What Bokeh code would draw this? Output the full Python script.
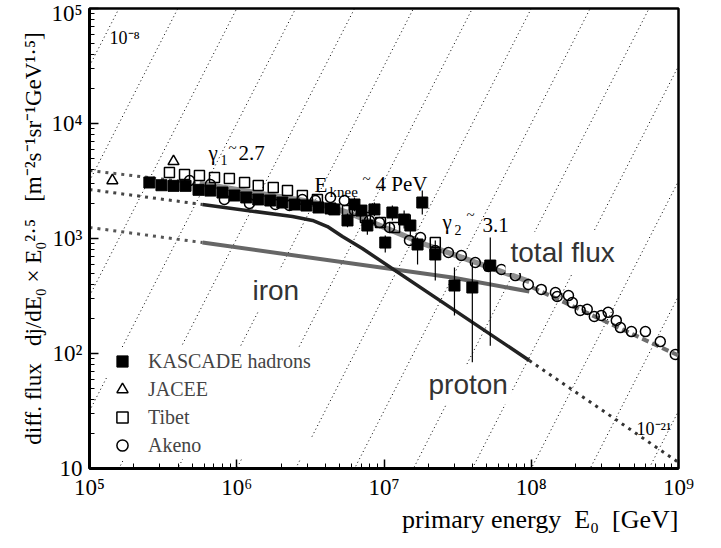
import math
from bokeh.plotting import figure
from bokeh.models import Range1d, FixedTicker, Label, Legend, LegendItem, Title
from bokeh.embed import file_html
from bokeh.resources import INLINE

SERIF = "Liberation Serif"
SANS = "Liberation Sans"
NB = "\u00a0"

# ---------------- data ----------------
# KASCADE hadrons (filled squares)
kascade_E = [2.55e5, 3.08e5, 3.72e5, 4.49e5, 5.50e5, 6.62e5, 8.00e5, 9.64e5, 1.16e6, 1.40e6,
             1.69e6, 2.04e6, 2.47e6, 2.97e6, 3.59e6, 4.33e6,
             4.60e6, 5.65e6, 6.30e6, 7.03e6, 7.71e6, 8.61e6, 1.02e7, 1.14e7, 1.37e7, 1.51e7,
             1.82e7, 1.69e7, 2.23e7, 3.01e7, 3.98e7, 5.27e7]
kascade_flux = [3070, 2905, 2870, 2870, 2650, 2610, 2510, 2365, 2275, 2185,
                2140, 2055, 1975, 1935, 1860, 1825,
                1790, 1435, 1975, 1750, 1297, 1790, 922, 1683, 1462, 1297,
                2055, 887, 726, 390, 375, 582]
# error bars of the scattered KASCADE points
kascade_err_E = [4.60e6, 5.65e6, 6.30e6, 7.03e6, 7.71e6, 8.61e6, 1.02e7, 1.14e7, 1.37e7, 1.51e7,
                 1.82e7, 1.69e7, 2.23e7, 3.01e7, 3.98e7, 5.27e7]
kascade_err_lo = [1600, 1250, 1720, 1560, 1080, 1560, 755, 1435, 1220, 1040,
                  1620, 594, 431, 214, 84, 117]
kascade_err_hi = [2000, 1650, 2270, 1960, 1560, 2060, 1062, 1935, 1750, 1620,
                  2610, 1020, 962, 560, 618, 1020]

# Tibet (open squares)
tibet_E = [3.49e5, 4.42e5, 5.58e5, 7.06e5, 8.91e5, 1.13e6, 1.40e6, 1.77e6, 2.21e6, 2.79e6,
           3.53e6, 5.65e6, 7.48e6, 9.46e6, 1.18e7, 2.23e7]
tibet_flux = [3750, 3605, 3535, 3390, 3325, 3070, 2890, 2775, 2610, 2365,
              2185, 1750, 1525, 1378, 1247, 922]

# JACEE (open triangles)
jacee_E = [1.43e5, 3.72e5]
jacee_flux = [3190, 4680]

# Akeno (open circles)
akeno_E = [4.78e5, 6.62e5, 8.24e5, 1.22e6, 1.83e6, 2.28e6, 2.79e6, 3.42e6, 4.33e6, 5.38e6,
           6.30e6, 7.96e6, 9.31e6, 1.09e7, 1.49e7, 1.77e7, 2.23e7, 2.74e7, 3.35e7, 4.17e7,
           5.12e7, 6.27e7, 7.80e7, 9.55e7, 1.17e8, 1.46e8, 1.50e8, 1.79e8, 1.90e8, 2.15e8,
           2.40e8, 2.68e8, 2.99e8, 3.33e8, 3.78e8, 4.03e8, 4.79e8, 5.96e8, 7.52e8, 9.51e8]
akeno_flux = [3190, 2950, 2185, 2015, 1975, 1935, 2185, 2140, 2275, 2140,
              1750, 1435, 1378, 1247, 962, 1020, 787, 755, 711, 618,
              571, 537, 476, 398, 361, 339, 313, 319, 277, 237,
              242, 210, 214, 228, 194, 168, 155, 155, 127, 98]

# model curves
total_E = [5.59e5, 3.42e6, 5.65e6, 9.02e6, 1.91e7, 9.70e7]
total_flux = [3006, 2055, 1683, 1324, 887, 423]
total_low_E = [1e5, 5.59e5]
total_low_flux = [3900, 3006]
total_high_E = [1.02e8, 1e9]
total_high_flux = [375, 96]

proton_E = [5.85e5, 2.39e6, 3.27e6, 4.13e6, 5.22e6, 7.13e6, 9.70e7]
proton_flux = [1975, 1553, 1435, 1270, 1040, 818, 87]
proton_low_E = [1e5, 5.85e5]
proton_low_flux = [2665, 1975]
proton_high_E = [9.70e7, 1e9]
proton_high_flux = [87, 11.3]

iron_E = [5.85e5, 2.91e7, 9.70e7]
iron_flux = [922, 458, 346]
iron_low_E = [1e5, 5.85e5]
iron_low_flux = [1247, 922]

# lines of constant differential flux (dj/dE = 10^k), drawn in the E^2.5-scaled plane
iso_flux_exp = list(range(-8, -22, -1))
iso_index = 2.5

x_major = [1e5, 1e6, 1e7, 1e8, 1e9]
x_labels = ["10\u2075", "10\u2076", "10\u2077", "10\u2078", "10\u2079"]
y_major = [1e1, 1e2, 1e3, 1e4, 1e5]
y_labels = ["10", "10\u00b2", "10\u00b3", "10\u2074", "10\u2075"]

# ---------------- figure ----------------
FL, FB = 97, 476  # frame left / bottom in page pixels (for annotation placement)

p = figure(x_axis_type="log", y_axis_type="log",
           x_range=Range1d(1e5, 1e9), y_range=Range1d(10, 1e5),
           frame_width=589, frame_height=460,
           min_border_left=89, min_border_right=27, min_border_top=8, min_border_bottom=60,
           output_backend="svg", toolbar_location=None)
p.xgrid.visible = False
p.ygrid.visible = False
p.outline_line_color = "black"
p.outline_line_width = 2.5
p.background_fill_color = "white"
p.border_fill_color = "white"

x_minor = [k * 10 ** n for n in range(5, 9) for k in range(2, 10)]
y_minor = [k * 10 ** n for n in range(1, 5) for k in range(2, 10)]
p.xaxis.ticker = FixedTicker(ticks=x_major, minor_ticks=x_minor)
p.yaxis.ticker = FixedTicker(ticks=y_major, minor_ticks=y_minor)
p.xaxis.major_label_overrides = {t: l for t, l in zip(x_major, x_labels)}
p.yaxis.major_label_overrides = {t: l for t, l in zip(y_major, y_labels)}
for ax in (p.xaxis, p.yaxis):
    ax.axis_line_width = 3
    ax.major_tick_in = 9
    ax.major_tick_out = 0
    ax.minor_tick_in = 5
    ax.minor_tick_out = 0
    ax.major_tick_line_width = 1.5
    ax.minor_tick_line_width = 1
    ax.major_label_text_font = SERIF
    ax.major_label_text_font_size = "23px"
    ax.major_label_text_color = "black"
p.xaxis.major_label_standoff = 6
p.yaxis.major_label_standoff = 7

# axis titles as side-panel titles
p.add_layout(Title(text="primary" + NB + "energy" + NB + NB + "E\u2080" + NB + NB + "[GeV]",
                   align="right", offset=0,
                   text_font=SERIF, text_font_size="26px", text_font_style="normal",
                   text_color="black", standoff=0), "below")
ylab = ("diff." + NB + "flux" + NB + NB + NB + "dj/dE\u2080" + NB + "\u00d7" + NB +
        "E\u2080\u00b2\u00b7\u2075" + NB + NB + NB +
        "[m\u207b\u00b2s\u207b\u00b9sr\u207b\u00b9GeV\u00b9\u00b7\u2075]")
p.add_layout(Title(text=ylab, align="center", text_font=SERIF, text_font_size="23px",
                   text_font_style="normal", text_color="black", standoff=6), "left")

# iso-flux dotted lines
for k in iso_flux_exp:
    p.line([1e5, 1e9], [10 ** k * 1e5 ** iso_index, 10 ** k * 1e9 ** iso_index],
           line_color="black", line_width=1, line_dash="1 3")

# model curves
DOT = "3 5"
p.line(total_low_E, total_low_flux, line_color="#555555", line_width=3, line_dash=DOT)
p.line(proton_low_E, proton_low_flux, line_color="#444444", line_width=3, line_dash=DOT)
p.line(iron_low_E, iron_low_flux, line_color="#555555", line_width=3, line_dash=DOT)
p.line(proton_high_E, proton_high_flux, line_color="#333333", line_width=3, line_dash=DOT)
p.line(total_high_E, total_high_flux, line_color="#6e6e6e", line_width=4, line_dash="7 4")
p.line(total_E, total_flux, line_color="#8f8f8f", line_width=5.5)
p.line(iron_E, iron_flux, line_color="#666666", line_width=4)
p.line(proton_E, proton_flux, line_color="#222222", line_width=3.5)

# data
p.segment(kascade_err_E, kascade_err_lo, kascade_err_E, kascade_err_hi,
          line_color="black", line_width=1.2)
r_k = p.scatter(kascade_E, kascade_flux, marker="square", size=11,
                fill_color="black", line_color="black")
r_t = p.scatter(tibet_E, tibet_flux, marker="square", size=10,
                fill_alpha=0, line_color="black", line_width=1.5)
r_a = p.scatter(akeno_E, akeno_flux, marker="circle", size=10,
                fill_alpha=0, line_color="black", line_width=1.5)
r_j = p.scatter(jacee_E, jacee_flux, marker="triangle", size=11,
                fill_alpha=0, line_color="black", line_width=1.5)


def label(text, px, py, size, font=SERIF, color="black", align="left",
          baseline="alphabetic", angle=0.0, bg=None, pad=0):
    kw = {}
    if bg is not None:
        kw["background_fill_color"] = bg
        kw["padding"] = pad
    p.add_layout(Label(x=px - FL, y=FB - py, x_units="screen", y_units="screen",
                       text=text, text_font=font, text_font_size=f"{size}px",
                       text_color=color, text_align=align, text_baseline=baseline,
                       angle=angle, **kw))


# big sans labels with white boxes
label("total" + NB + "flux", 513, 260, 28, font=SANS, color="#333333", bg="white", pad=5)
label("iron", 255, 298, 28, font=SANS, color="#333333", bg="white", pad=5)
label("proton", 432, 392, 28, font=SANS, color="#333333", bg="white", pad=4)

# spectral index annotations
label("\u03b3", 216, 160, 21)
label("1", 228, 167, 14)
label("~", 236, 155, 15)
label("2.7", 246, 160, 21)

label("E", 322, 192, 21)
label("knee", 337, 199, 15)
label("~", 370, 186, 15)
label("4" + NB + "PeV", 383, 191, 21)

label("\u03b3", 450, 229, 21)
label("2", 462, 237, 14)
label("~", 474, 222, 15)
label("3.1", 490, 232, 21)

# iso line labels
label("10\u207b\u2078", 117, 45, 18)
label("10\u207b\u00b2\u00b9", 644, 436, 18)

legend = Legend(items=[LegendItem(label="KASCADE hadrons", renderers=[r_k]),
                       LegendItem(label="JACEE", renderers=[r_j]),
                       LegendItem(label="Tibet", renderers=[r_t]),
                       LegendItem(label="Akeno", renderers=[r_a])],
                location=(18, 9), orientation="vertical",
                border_line_color=None, background_fill_color="white", background_fill_alpha=1,
                label_text_font=SERIF, label_text_font_size="20px",
                glyph_width=30, glyph_height=28, label_height=28, spacing=0,
                padding=6, margin=0, label_standoff=11)
p.add_layout(legend)

open("out.html", "w").write(file_html(p, INLINE))
